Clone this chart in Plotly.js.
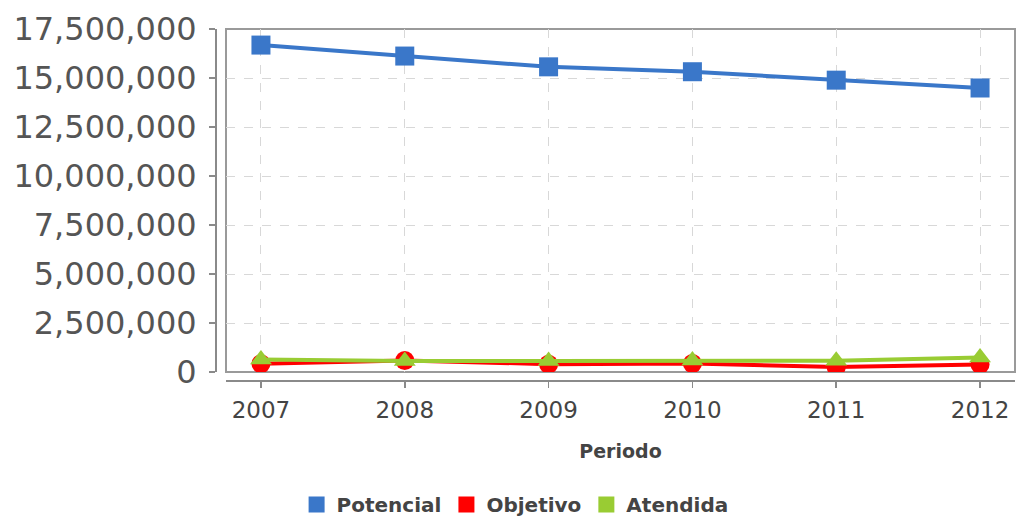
<!DOCTYPE html>
<html>
<head>
<meta charset="utf-8">
<script src="https://cdn.plot.ly/plotly-3.0.1.min.js"></script>
<style>html,body{margin:0;padding:0;background:#fff;}#chart{width:1020px;height:517px;}</style>
</head>
<body>
<div id="chart"></div>
<script>
var years = ['2007', '2008', '2009', '2010', '2011', '2012'];
var potencial = [16680000, 16120000, 15570000, 15320000, 14890000, 14490000];
var objetivo = [420000, 590000, 400000, 430000, 250000, 380000];
var atendida = [640000, 560000, 560000, 590000, 580000, 740000];
var seriesNames = ['Potencial', 'Objetivo', 'Atendida'];
var colors = ['#3a77c9', '#ff0000', '#99cc33'];
var yTicks = [0, 2500000, 5000000, 7500000, 10000000, 12500000, 15000000, 17500000];

var traces = [
  {x: years, y: potencial, type: 'scatter', mode: 'lines+markers', showlegend: false,
   line: {color: colors[0], width: 4}, marker: {symbol: 'square', size: 19, color: colors[0]}},
  {x: years, y: objetivo, type: 'scatter', mode: 'lines+markers', showlegend: false,
   line: {color: colors[1], width: 4}, marker: {symbol: 'circle', size: 19, color: colors[1]}},
  {x: years, y: atendida, type: 'scatter', mode: 'lines+markers', showlegend: false,
   line: {color: colors[2], width: 4}, marker: {symbol: 'triangle-up', size: 19, color: colors[2]}}
];
for (var i = 0; i < seriesNames.length; i++) {
  traces.push({x: [null], y: [null], type: 'scatter', mode: 'markers', name: seriesNames[i],
    marker: {symbol: 'square', size: 20, color: colors[i]}, showlegend: true});
}

var layout = {
  width: 1020, height: 517,
  margin: {l: 216, r: 5, t: 29, b: 136},
  paper_bgcolor: '#ffffff', plot_bgcolor: '#ffffff',
  showlegend: true,
  font: {family: 'DejaVu Sans', color: '#444'},
  xaxis: {
    type: 'category', domain: [10/799, 1], anchor: 'free', position: 0,
    range: [-0.243, 5.243],
    showline: true, linecolor: '#8a8a8a', linewidth: 2,
    ticks: 'outside', ticklen: 6, tickwidth: 1.5, tickcolor: '#8a8a8a',
    showgrid: true, gridcolor: '#d8d8d8', griddash: 'dash', gridwidth: 1,
    tickfont: {family: 'DejaVu Sans', size: 23, color: '#444'},
    ticklabelstandoff: 2,
    title: {text: 'Periodo', font: {family: 'DejaVu Sans', size: 19, color: '#444', weight: 'bold'}, standoff: 22},
    zeroline: false, fixedrange: true
  },
  yaxis: {
    domain: [9/352, 1], anchor: 'free', position: 0,
    range: [0, 17500000], tickvals: yTicks, tickformat: ',d',
    showline: true, linecolor: '#8a8a8a', linewidth: 2,
    ticks: 'outside', ticklen: 6, tickwidth: 1.5, tickcolor: '#8a8a8a',
    showgrid: true, gridcolor: '#d8d8d8', griddash: 'dash', gridwidth: 1,
    tickfont: {family: 'DejaVu Sans', size: 32, color: '#555'},
    ticklabelstandoff: 6,
    zeroline: false, fixedrange: true
  },
  shapes: [{type: 'rect', xref: 'x domain', yref: 'y domain', x0: 0, x1: 1, y0: 0, y1: 1,
    line: {color: '#9a9a9a', width: 2}, layer: 'below'}],
  legend: {
    orientation: 'h', xref: 'container', yref: 'container', x: 0.505, xanchor: 'center',
    y: 0.024, yanchor: 'middle', font: {family: 'DejaVu Sans', size: 20, color: '#444', weight: 'bold'},
    itemclick: false, itemdoubleclick: false, tracegroupgap: 0, itemwidth: 30
  }
};

Plotly.newPlot('chart', traces, layout, {staticPlot: true, displayModeBar: false});
</script>
</body>
</html>
